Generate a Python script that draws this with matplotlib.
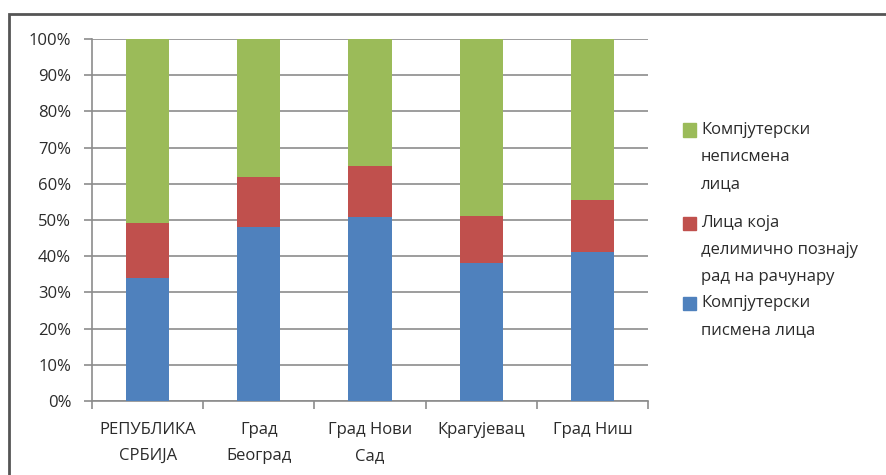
import numpy as np
import matplotlib
matplotlib.use('Agg')
import matplotlib.pyplot as plt
from matplotlib.patches import Rectangle
from matplotlib.ticker import FixedLocator

plt.rcParams['font.family'] = ['Open Sans', 'DejaVu Sans']

categories = ['РЕПУБЛИКА\nСРБИЈА', 'Град\nБеоград', 'Град Нови\nСад', 'Крагујевац', 'Град Ниш']
literate = [34.0, 48.0, 50.7, 38.0, 41.2]
partial = [15.1, 14.0, 14.3, 13.2, 14.3]
illiterate = [50.9, 38.0, 35.0, 48.8, 44.5]
labels = ['Компјутерски\nписмена лица',
          'Лица која\nделимично познају\nрад на рачунару',
          'Компјутерски\nнеписмена\nлица']
colors = ['#4F81BD', '#C0504D', '#9BBB59']
txt = '#2b2b2b'
fs = 12

W, H = 887, 475
fig = plt.figure(figsize=(W / 100, H / 100), dpi=100)
ax = fig.add_axes([92 / W, 1 - 401 / H, (648 - 92) / W, (401 - 39) / H])

x = np.arange(len(categories))
w = 0.39
ax.bar(x, literate, w, color=colors[0], zorder=3)
ax.bar(x, partial, w, bottom=literate, color=colors[1], zorder=3)
bottom2 = np.array(literate) + np.array(partial)
ax.bar(x, illiterate, w, bottom=bottom2, color=colors[2], zorder=3)

ax.set_xlim(-0.5, len(categories) - 0.5)
ax.set_ylim(0, 100)
ax.set_yticks(np.arange(0, 101, 10))
ax.set_yticklabels([f'{v}%' for v in range(0, 101, 10)], fontsize=fs, color=txt)
ax.yaxis.grid(True, color='#8c8c8c', linewidth=1.2, zorder=0)
ax.set_xticks(x)
ax.set_xticklabels(categories, fontsize=fs, color=txt, linespacing=1.85)
ax.tick_params(axis='x', length=0, pad=15)
ax.xaxis.set_minor_locator(FixedLocator(np.arange(-0.5, len(categories), 1.0)))
ax.tick_params(axis='x', which='minor', length=6, color='#8c8c8c', width=1.2)
ax.tick_params(axis='y', length=6, color='#8c8c8c', width=1.2, pad=9)

for s in ['top', 'right']:
    ax.spines[s].set_visible(False)
for s in ['left', 'bottom']:
    ax.spines[s].set_color('#8c8c8c')
    ax.spines[s].set_linewidth(1.2)

# legend drawn by hand so the swatch sits on the first line of each label
entries = [(labels[2], colors[2], 130), (labels[1], colors[1], 223), (labels[0], colors[0], 303)]
for text, col, y0 in entries:
    fig.patches.append(Rectangle((683 / W, 1 - (y0 + 6.5) / H), 13 / W, 13 / H,
                                 transform=fig.transFigure, color=col))
    for i, line in enumerate(text.split('\n')):
        fig.text(701 / W, 1 - (y0 + 27 * i) / H, line, fontsize=fs,
                 color=txt, va='center', ha='left')

# outer frame of the chart
fig.patches.append(Rectangle((9 / W, -0.05), 1.0, 1 - 14 / H + 0.05,
                             transform=fig.transFigure, fill=False,
                             edgecolor='#555555', linewidth=2))

fig.savefig('out.png', dpi=100)
